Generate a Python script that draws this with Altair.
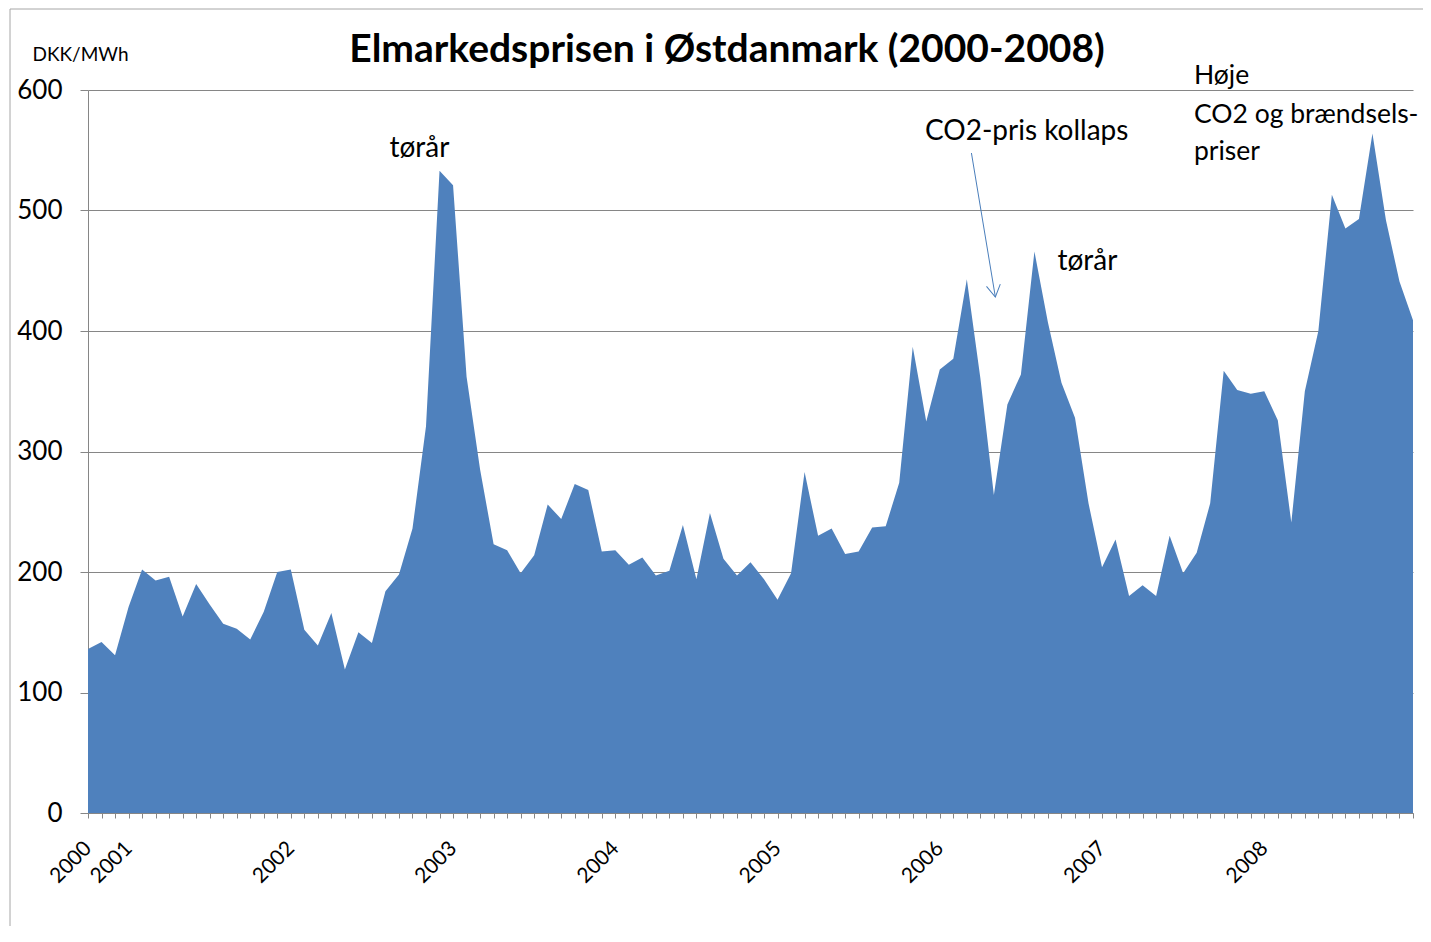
import altair as alt
import pandas as pd

# Monthly market price, Oct 2000 - Dec 2008 (DKK/MWh)
prices = [136, 142, 131, 171, 202, 193, 196, 163, 190, 173, 157, 153,
          144, 167, 200, 202, 152, 139, 166, 119, 150, 141, 184, 198,
          236, 321, 533, 521, 362, 285, 223, 218, 199, 214, 256, 244,
          273, 268, 217, 218, 206, 212, 197, 201, 239, 194, 249, 211,
          197, 208, 194, 177, 199, 283, 230, 236, 215, 217, 237, 238,
          274, 387, 325, 368, 377, 443, 361, 264, 339, 364, 466, 407,
          357, 328, 257, 204, 227, 180, 189, 180, 230, 199, 216, 257,
          367, 351, 348, 350, 326, 241, 350, 400, 513, 485, 493, 564,
          492, 441, 409]
months = list(range(len(prices)))

year_tick_idx = [0, 3, 15, 27, 39, 51, 63, 75, 87]
year_labels = ["2000", "2001", "2002", "2003", "2004", "2005", "2006", "2007", "2008"]

y_ticks = [0, 100, 200, 300, 400, 500, 600]

title_text = "Elmarkedsprisen i Østdanmark (2000-2008)"

ann_text = ["tørår", "CO2-pris kollaps", "tørår"]
ann_x = [22.3, 61.9, 71.7]
ann_y = [544.4, 558.5, 450.6]

block_text = ["Høje", "CO2 og brændsels-", "priser"]
block_x = [81.8, 81.8, 81.8]
block_y = [605.0, 572.8, 541.9]

arrow_x = [65.34]
arrow_y = [547.7]
arrow_x2 = [67.11]
arrow_y2 = [428.2]

FONT = "Lato"
BLUE = "#4F81BD"
GRID = "#868686"

df = pd.DataFrame({"idx": months, "price": prices})
ann_df = pd.DataFrame({"x": ann_x, "y": ann_y, "text": ann_text})
block_df = pd.DataFrame({"x": block_x, "y": block_y, "text": block_text})
arrow_df = pd.DataFrame({"x": arrow_x, "y": arrow_y, "x2": arrow_x2, "y2": arrow_y2})
title_df = pd.DataFrame({"text": [title_text]})

x_scale = alt.Scale(domain=[0, len(prices) - 1], nice=False, zero=False)
y_scale = alt.Scale(domain=[0, 600], nice=False)

label_expr = " : ".join(
    f"datum.value == {i} ? '{t}'" for i, t in zip(year_tick_idx, year_labels)
) + " : ''"

area = alt.Chart(df).mark_area(color=BLUE, opacity=1).encode(
    x=alt.X("idx:Q", scale=x_scale,
            axis=alt.Axis(values=months, tickCount=500, labelExpr=label_expr,
                          labelAngle=315, labelAlign="right",
                          labelBaseline="middle", labelPadding=27, tickSize=5,
                          tickColor=GRID, domainColor=GRID, grid=False,
                          labelFont=FONT, labelFontSize=21, labelColor="black",
                          labelOverlap=False, title=None)),
    y=alt.Y("price:Q", scale=y_scale,
            axis=alt.Axis(values=y_ticks, grid=True, gridColor=GRID,
                          domainColor=GRID, tickColor=GRID, tickSize=8,
                          labelPadding=18, labelFont=FONT, labelFontSize=26,
                          labelColor="black", title="DKK/MWh", titleAngle=0,
                          titleX=-56, titleY=-36, titleAlign="left",
                          titleBaseline="middle", titleFont=FONT,
                          titleFontSize=19, titleFontWeight="normal",
                          titleColor="black")),
)

annotations = alt.Chart(ann_df).mark_text(
    align="left", baseline="alphabetic", font=FONT, fontSize=28, color="black"
).encode(
    x=alt.X("x:Q", scale=x_scale),
    y=alt.Y("y:Q", scale=y_scale),
    text="text:N",
)

block = alt.Chart(block_df).mark_text(
    align="left", baseline="alphabetic", font=FONT, fontSize=26.5, color="black"
).encode(
    x=alt.X("x:Q", scale=x_scale),
    y=alt.Y("y:Q", scale=y_scale),
    text="text:N",
)

title = alt.Chart(title_df).mark_text(
    align="center", baseline="alphabetic", font=FONT, fontSize=39,
    fontWeight="bold", color="black"
).encode(x=alt.value(639), y=alt.value(-28), text="text:N")

arrow_line = alt.Chart(arrow_df).mark_rule(color="#4A7EBB", strokeWidth=1).encode(
    x=alt.X("x:Q", scale=x_scale), y=alt.Y("y:Q", scale=y_scale),
    x2="x2:Q", y2="y2:Q",
)

arrow_head = alt.Chart(arrow_df).mark_point(
    shape="M-1,-1.7L0,0L1,-1.7", filled=False, size=196, strokeWidth=1,
    color="#4A7EBB", angle=350.5, opacity=1
).encode(
    x=alt.X("x2:Q", scale=x_scale), y=alt.Y("y2:Q", scale=y_scale),
)

border_df = pd.DataFrame({"k": [0]})
border_left = alt.Chart(border_df).mark_rule(color="#A6A6A6", strokeWidth=1).encode(
    x=alt.value(-78), y=alt.value(-81), y2=alt.value(840)
)
border_top = alt.Chart(border_df).mark_rule(color="#A6A6A6", strokeWidth=1).encode(
    x=alt.value(-78), x2=alt.value(1340), y=alt.value(-81)
)

chart = alt.layer(
    border_left, border_top, area, arrow_line, arrow_head, annotations, block, title
).properties(
    width=1325,
    height=723,
    padding={"left": 80, "top": 82, "right": 10, "bottom": 113},
    autosize=alt.AutoSizeParams(type="none"),
).configure_view(strokeWidth=0)

chart.save("out.html", embed_options={"renderer": "svg", "actions": False})
